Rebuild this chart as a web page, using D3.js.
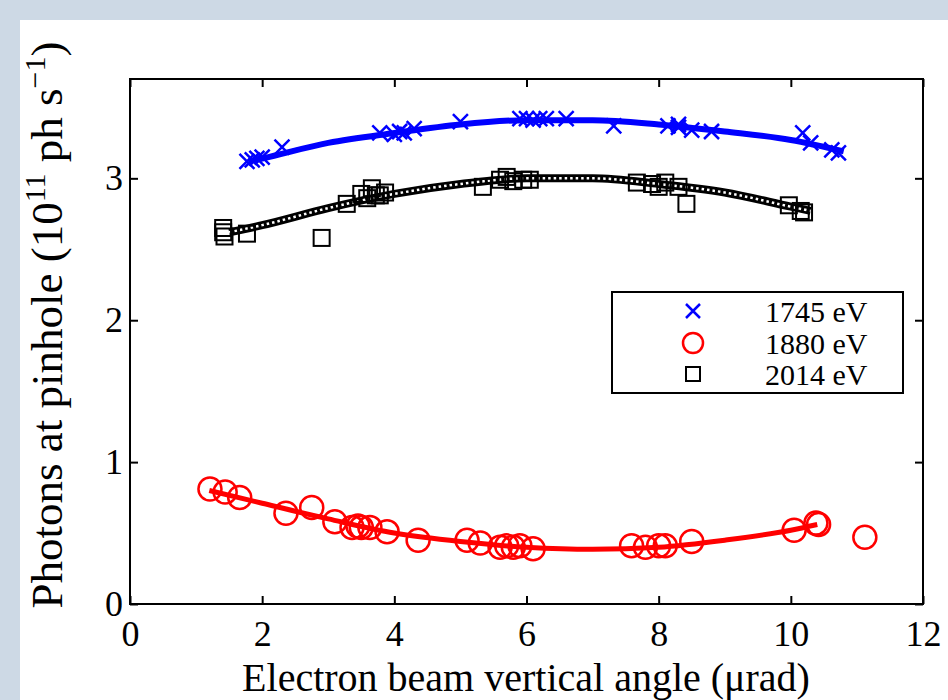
<!DOCTYPE html>
<html><head><meta charset="utf-8">
<script src="https://cdn.jsdelivr.net/npm/d3@7"></script>
<style>body{margin:0;background:#cdd9e5;}svg{display:block;}</style>
</head><body>
<svg id="chart" width="948" height="700"></svg>
<script>
// ---- data ----
const xTicks = [0, 2, 4, 6, 8, 10, 12];
const yTicks = [0, 1, 2, 3];
const seriesNames = ["1745 eV", "1880 eV", "2014 eV"];

const blueX = [1.77, 1.85, 1.92, 2.0, 2.3, 3.78, 4.0, 4.08, 4.15, 4.3, 5.0, 5.9, 6.0, 6.1, 6.2, 6.3, 6.6, 7.32, 8.14, 8.3, 8.3, 8.5, 8.8, 10.18, 10.3, 10.62, 10.72];
const blueY = [3.12, 3.13, 3.14, 3.15, 3.22, 3.32, 3.31, 3.33, 3.32, 3.35, 3.40, 3.42, 3.42, 3.41, 3.42, 3.42, 3.42, 3.37, 3.37, 3.36, 3.38, 3.34, 3.33, 3.32, 3.25, 3.20, 3.18];
const blueFitX = [1.8, 2, 3, 4, 5, 6, 7, 8, 9, 10, 10.8];
const blueFitY = [3.12, 3.14, 3.25, 3.32, 3.38, 3.41, 3.41, 3.38, 3.33, 3.27, 3.19];

const redX = [1.21, 1.44, 1.66, 2.36, 2.75, 3.1, 3.36, 3.45, 3.5, 3.63, 3.89, 4.36, 5.1, 5.3, 5.6, 5.7, 5.8, 5.9, 6.1, 7.59, 7.8, 8.0, 8.1, 8.5, 10.05, 10.38, 10.42, 11.12];
const redY = [0.81, 0.79, 0.75, 0.64, 0.68, 0.58, 0.54, 0.55, 0.54, 0.54, 0.51, 0.45, 0.45, 0.43, 0.40, 0.41, 0.40, 0.41, 0.39, 0.41, 0.40, 0.41, 0.41, 0.44, 0.52, 0.57, 0.56, 0.47];
const redFitX = [1.2, 2, 3, 4, 5, 6, 7, 8, 9, 10, 10.4];
const redFitY = [0.80, 0.71, 0.60, 0.50, 0.44, 0.40, 0.385, 0.40, 0.45, 0.52, 0.56];

const blackX = [1.41, 1.41, 1.43, 1.77, 2.9, 3.28, 3.5, 3.59, 3.66, 3.72, 3.78, 3.86, 5.34, 5.6, 5.7, 5.8, 5.95, 6.05, 7.67, 7.9, 8.0, 8.1, 8.3, 8.42, 9.97, 10.15, 10.2];
const blackY = [2.62, 2.65, 2.59, 2.61, 2.58, 2.82, 2.89, 2.86, 2.93, 2.88, 2.88, 2.90, 2.94, 2.99, 3.01, 2.98, 2.99, 2.99, 2.97, 2.96, 2.94, 2.97, 2.94, 2.82, 2.81, 2.77, 2.76];
const blackFitX = [1.5, 2, 3, 4, 5, 6, 7, 8, 9, 10, 10.3];
const blackFitY = [2.62, 2.67, 2.79, 2.89, 2.96, 3.0, 3.0, 2.96, 2.90, 2.80, 2.77];

// ---- layout ----
const svg = d3.select("#chart");
svg.append("rect").attr("x", 20).attr("y", 20).attr("width", 928).attr("height", 680).attr("fill", "#fff");

const L = 130, R = 923, T = 79, B = 604;
const x = d3.scaleLinear().domain([0, 12]).range([L, R]);
const y = d3.scaleLinear().domain([0, 3.7]).range([B, T]);
const FONT = "'Liberation Serif', 'DejaVu Serif', serif";

const g = svg.append("g");

function styleAxis(sel) {
  sel.selectAll(".domain").remove();
  sel.selectAll(".tick line").attr("stroke", "#000").attr("stroke-width", 2);
  sel.selectAll("text").attr("font-family", FONT).attr("font-size", 36).attr("fill", "#000");
}
g.append("g").attr("transform", `translate(0,${B})`)
  .call(d3.axisBottom(x).tickValues(xTicks).tickSize(-8).tickPadding(16).tickFormat(d3.format("d")))
  .call(styleAxis);
g.append("g").attr("transform", `translate(0,${T})`)
  .call(d3.axisTop(x).tickValues(xTicks).tickSize(-8).tickFormat(""))
  .call(styleAxis);
g.append("g").attr("transform", `translate(${L},0)`)
  .call(d3.axisLeft(y).tickValues(yTicks).tickSize(-8).tickPadding(7).tickFormat(d3.format("d")))
  .call(styleAxis);
g.append("g").attr("transform", `translate(${R},0)`)
  .call(d3.axisRight(y).tickValues(yTicks).tickSize(-8).tickFormat(""))
  .call(styleAxis);
g.append("rect").attr("x", L).attr("y", T).attr("width", R - L).attr("height", B - T)
  .attr("fill", "none").attr("stroke", "#000").attr("stroke-width", 2);

// fit lines
const line = d3.line().x(d => x(d[0])).y(d => y(d[1])).curve(d3.curveMonotoneX);
const zip = (a, b) => a.map((v, i) => [v, b[i]]);

g.append("path").datum(zip(blueFitX, blueFitY)).attr("d", line)
  .attr("fill", "none").attr("stroke", "#0000ff").attr("stroke-width", 6);
g.append("path").datum(zip(redFitX, redFitY)).attr("d", line)
  .attr("fill", "none").attr("stroke", "#ff0000").attr("stroke-width", 5);
g.append("path").datum(zip(blackFitX, blackFitY)).attr("d", line)
  .attr("fill", "none").attr("stroke", "#000").attr("stroke-width", 8);
g.append("path").datum(zip(blackFitX, blackFitY)).attr("d", line)
  .attr("fill", "none").attr("stroke", "#fff").attr("stroke-width", 2.5).attr("stroke-dasharray", "2.5 3");

// markers
function cross(sel, cx, cy, s, color) {
  sel.append("path").attr("d", `M${cx - s},${cy - s}L${cx + s},${cy + s}M${cx - s},${cy + s}L${cx + s},${cy - s}`)
    .attr("stroke", color).attr("stroke-width", 2.5).attr("fill", "none");
}
const mk = g.append("g");
blueX.forEach((v, i) => cross(mk, x(v), y(blueY[i]), 7.5, "#0000ff"));
redX.forEach((v, i) => mk.append("circle").attr("cx", x(v)).attr("cy", y(redY[i])).attr("r", 11.5)
  .attr("fill", "none").attr("stroke", "#ff0000").attr("stroke-width", 2.5));
blackX.forEach((v, i) => mk.append("rect").attr("x", x(v) - 8).attr("y", y(blackY[i]) - 8)
  .attr("width", 16).attr("height", 16).attr("fill", "none").attr("stroke", "#000").attr("stroke-width", 2));

// legend
const lg = svg.append("g");
lg.append("rect").attr("x", 612).attr("y", 292).attr("width", 291).attr("height", 101)
  .attr("fill", "#fff").attr("stroke", "#000").attr("stroke-width", 2);
const rowsY = [311, 343, 374];
cross(lg, 693, rowsY[0], 7, "#0000ff");
lg.append("circle").attr("cx", 693).attr("cy", rowsY[1]).attr("r", 10).attr("fill", "none").attr("stroke", "#ff0000").attr("stroke-width", 2.5);
lg.append("rect").attr("x", 686).attr("y", rowsY[2] - 7).attr("width", 14).attr("height", 14).attr("fill", "none").attr("stroke", "#000").attr("stroke-width", 2);
seriesNames.forEach((n, i) => lg.append("text").attr("x", 765).attr("y", rowsY[i]).attr("dy", "0.35em")
  .attr("font-family", FONT).attr("font-size", 30).text(n));

// axis labels
svg.append("text").attr("x", 526).attr("y", 691).attr("text-anchor", "middle")
  .attr("font-family", FONT).attr("font-size", 40).text("Electron beam vertical angle (μrad)");
const yl = svg.append("text").attr("transform", `translate(62,325) rotate(-90)`)
  .attr("text-anchor", "middle").attr("font-family", FONT).attr("font-size", 45);
yl.append("tspan").text("Photons at pinhole (10");
yl.append("tspan").attr("dy", -17).attr("font-size", 30).text("11");
yl.append("tspan").attr("dy", 17).text(" ph s");
yl.append("tspan").attr("dy", -17).attr("font-size", 30).text("−1");
yl.append("tspan").attr("dy", 17).text(")");
</script>
</body></html>
